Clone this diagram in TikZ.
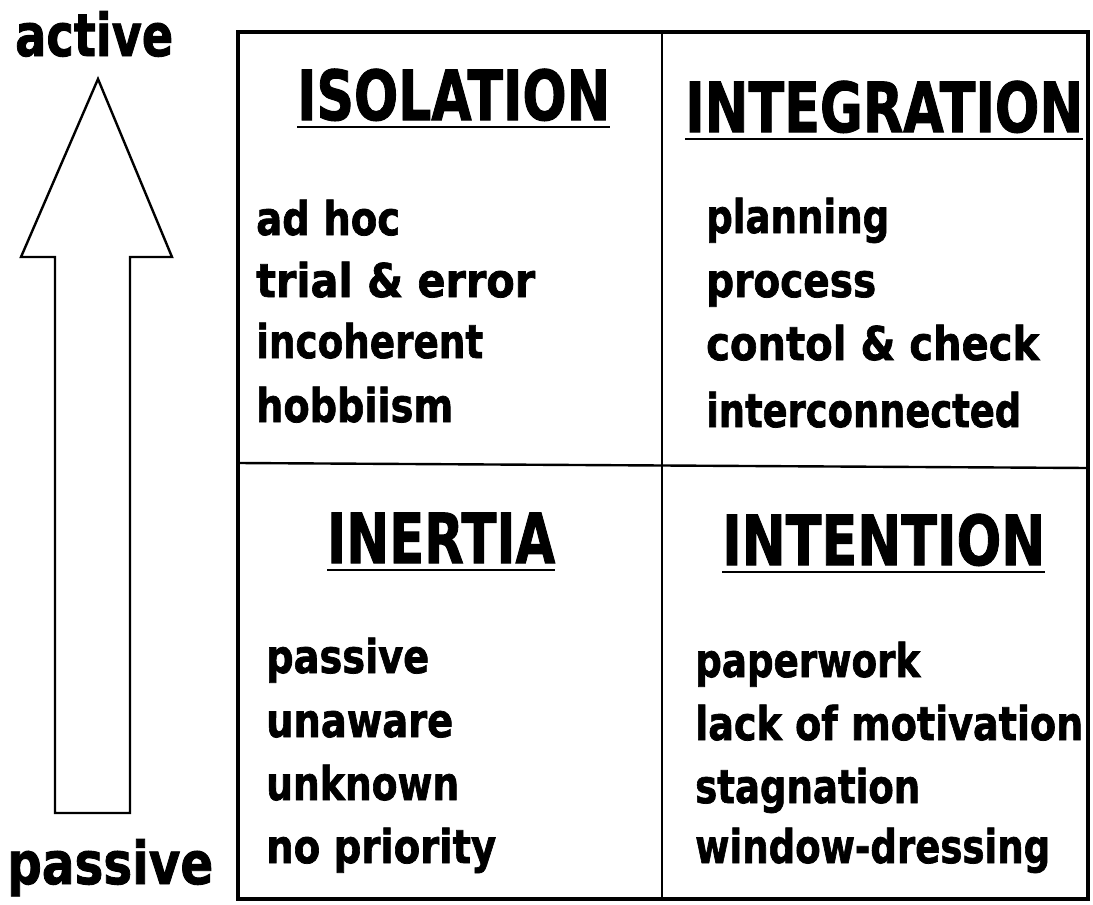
\documentclass[tikz,border=0pt]{standalone}
\usepackage{fontspec}
\setmainfont{DejaVu Sans}[BoldFeatures={FakeBold=1.6}]
\usepackage{graphicx}
\newcommand\fitw[2]{\resizebox{#1pt}{\height}{#2}}
\tikzset{
  item/.style={anchor=base west, inner sep=0pt, font=\bfseries\fontsize{46.5}{50}\selectfont},
  head/.style={anchor=base west, inner sep=0pt, font=\bfseries\fontsize{69}{72}\selectfont},
  axislabel/.style={anchor=base west, inner sep=0pt, font=\bfseries\fontsize{59}{62}\selectfont},
  frame/.style={line width=3.4pt},
  divider/.style={line width=2.4pt},
  uline/.style={line width=2.4pt},
  bigarrow/.style={line width=2.4pt, line join=miter},
}
\begin{document}
\begin{tikzpicture}[x=1pt,y=-1pt]
\useasboundingbox (0,0) rectangle (1093,905);
\fill[white] (0,0) rectangle (1093,905);

% axis arrow and labels
\draw[bigarrow] (98,79) -- (172,257) -- (130,257) -- (130,813) -- (55,813) -- (55,257) -- (21,257) -- cycle;
\node[axislabel] (active) at (15,56) {\fitw{158}{active}};
\node[axislabel] (passive) at (7,884) {\fitw{206}{passive}};

% grid
\draw[frame] (238,32) rectangle (1088,899);
\draw[divider] (662,32) -- (662,899);
\draw[divider] (238,463) -- (1088,468);

% headings
\node[head] (hIso) at (297,120) {\fitw{313}{ISOLATION}};
\node[head] (hInt) at (685,132) {\fitw{398}{INTEGRATION}};
\node[head] (hIne) at (327,563) {\fitw{228}{INERTIA}};
\node[head] (hIntn) at (722,565) {\fitw{323}{INTENTION}};
\foreach \h in {hIso,hInt,hIne,hIntn}
  \draw[uline] ([yshift=-7pt]\h.base west) -- ([yshift=-7pt]\h.base east);

% isolation items
\node[item] (i1) at (256,235) {\fitw{144}{ad hoc}};
\node[item] (i2) at (256,297) {\fitw{279}{trial \& error}};
\node[item] (i3) at (256,358) {\fitw{227}{incoherent}};
\node[item] (i4) at (256,422) {\fitw{197}{hobbiism}};

% integration items
\node[item] (g1) at (706,233) {\fitw{183}{planning}};
\node[item] (g2) at (706,297) {\fitw{170}{process}};
\node[item] (g3) at (706,360) {\fitw{333}{contol \& check}};
\node[item] (g4) at (706,427) {\fitw{315}{interconnected}};

% inertia items
\node[item] (n1) at (266,673) {\fitw{163}{passive}};
\node[item] (n2) at (266,737) {\fitw{187}{unaware}};
\node[item] (n3) at (266,800) {\fitw{193}{unknown}};
\node[item] (n4) at (266,863) {\fitw{230}{no priority}};

% intention items
\node[item] (t1) at (695,677) {\fitw{225}{paperwork}};
\node[item] (t2) at (695,740) {\fitw{388}{lack of motivation}};
\node[item] (t3) at (695,803) {\fitw{225}{stagnation}};
\node[item] (t4) at (695,863) {\fitw{355}{window-dressing}};
\end{tikzpicture}
\end{document}
